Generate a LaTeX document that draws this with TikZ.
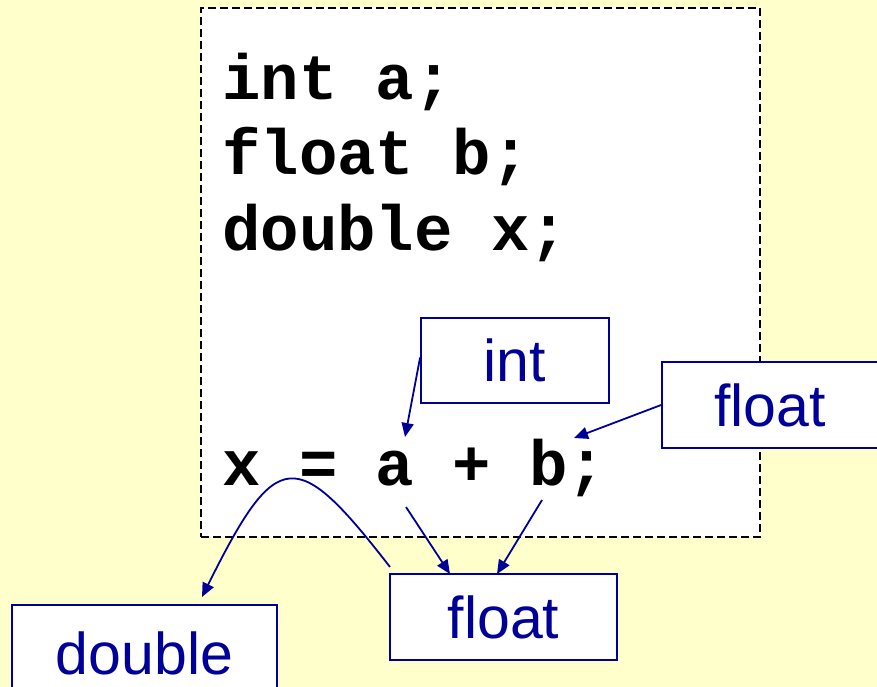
\documentclass[tikz,border=0pt]{standalone}
\usepackage{fontspec}
\setmainfont{Liberation Sans}
\newfontfamily\codefont{Liberation Mono}
\usetikzlibrary{arrows.meta}
\definecolor{bgyellow}{HTML}{FFFFCC}
\definecolor{pblue}{HTML}{000099}
\begin{document}
\begin{tikzpicture}[x=1pt,y=-1pt,
  code/.style={anchor=base west,inner sep=0pt,font=\codefont\bfseries\fontsize{64}{64}\selectfont,text=black},
  tbox/.style={draw=pblue,line width=1.8pt,fill=white,text=pblue,font=\fontsize{59}{59}\selectfont,inner sep=0pt},
  conn/.style={draw=pblue,line width=1.8pt,-{Triangle[length=14pt,width=12pt]}}]
\fill[bgyellow] (0,0) rectangle (877,687);
\useasboundingbox (0,0) rectangle (877,687);
\node[draw=black,dash pattern=on 8pt off 4pt,line width=1.4pt,fill=white,minimum width=559pt,minimum height=529pt,inner sep=0pt] (frame) at (480.5,272.5) {};
\node[code] (l1) at (222,100) {int a;};
\node[code] (l2) at (222,175) {float b;};
\node[code] (l3) at (222,250) {double x;};
\node[code] (l4) at (222,485) {x = a + b;};
\node[tbox,minimum width=188pt,minimum height=85pt] (tint) at (515,360.5) {int};
\node[tbox,minimum width=216pt,minimum height=86pt] (tfr) at (770,405) {float};
\node[tbox,minimum width=227pt,minimum height=86pt] (tfb) at (503.5,617) {float};
\node[tbox,minimum width=265pt,minimum height=96pt] (tdb) at (144.5,653) {double};
\coordinate (ta) at (405,437);
\coordinate (tb) at (574,438);
\coordinate (sa) at (406,507);
\coordinate (sb) at (542,500);
\coordinate (ea) at (450,574);
\coordinate (eb) at (497,574);
\coordinate (cs) at (390,567);
\coordinate (ce) at (202,597);
\draw[conn] ([yshift=3pt]tint.west) -- (ta);
\draw[conn] (tfr.west) -- (tb);
\draw[conn] (sa) -- (ea);
\draw[conn] (sb) -- (eb);
\draw[conn] (cs) .. controls (296,446) and (277,446) .. (ce);
\end{tikzpicture}
\end{document}
